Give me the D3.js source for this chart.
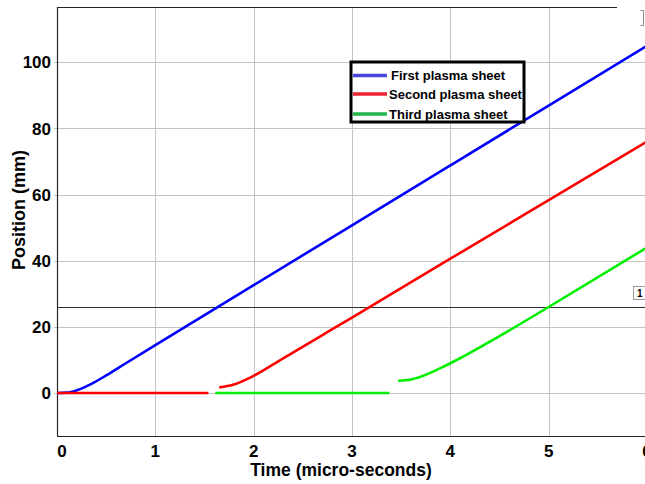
<!DOCTYPE html>
<html>
<head>
<meta charset="utf-8">
<script src="https://cdn.jsdelivr.net/npm/d3@7"></script>
<style>
  body { margin: 0; background: #fff; overflow: hidden; }
  text { font-family: "Liberation Sans", Arial, sans-serif; font-weight: bold; fill: #000; }
</style>
</head>
<body>
<svg id="chart" width="645" height="484"></svg>
<script>
// Sheet trajectories: time in micro-seconds, position in mm (null = break in the trace)
const firstTime  = [0, 0.1, 0.2, 0.34, 0.5, 0.7, 1, 2, 3, 4, 5, 6];
const firstPos   = [0, 0.1, 0.8, 2.6, 5.3, 9.0, 14.5, 32.6, 50.7, 68.8, 86.9, 105.0];
const secondTime = [0, 1.54, null, 1.65, 1.79, 2.0, 2.3, 2.67, 3, 4, 5, 6];
const secondPos  = [0, 0, null, 1.7, 2.5, 5.2, 10.5, 17.0, 22.8, 40.6, 58.3, 76.0];
const thirdTime  = [1.61, 3.38, null, 3.47, 3.6, 4.0, 4.5, 5, 6];
const thirdPos   = [0, 0, null, 3.7, 4.1, 9.0, 17.2, 26.0, 44.0];
const seriesNames = ["First plasma sheet", "Second plasma sheet", "Third plasma sheet"];
const xTicks = [0, 1, 2, 3, 4, 5, 6];
const yTicks = [0, 20, 40, 60, 80, 100];
const markerLevel = 26;   // horizontal marker line (mm)
const markerLabel = "1";

const lineColors   = ["#0000ff", "#ff0000", "#00ee00"];
const legendColors = ["#4646dc", "#ee2233", "#22b64c"];

const svg = d3.select("#chart");
const plotL = 57, plotR = 647, plotT = 7, plotB = 436;
const x = d3.scaleLinear().domain([0, 6]).range([plotL, plotR]);
const y = d3.scaleLinear().domain([-13, 116.7]).range([plotB, plotT]);

// grid
const grid = svg.append("g").attr("stroke", "#c4c4c4").attr("stroke-width", 1);
grid.selectAll(".gx").data(xTicks.filter(d => d > 0 && d < 6)).join("line")
  .attr("x1", d => Math.round(x(d)) + 0.5).attr("x2", d => Math.round(x(d)) + 0.5)
  .attr("y1", plotT).attr("y2", plotB);
grid.selectAll(".gy").data(yTicks).join("line")
  .attr("x1", plotL - 3).attr("x2", 645)
  .attr("y1", d => Math.round(y(d)) + 0.5).attr("y2", d => Math.round(y(d)) + 0.5);

// axis frame
svg.append("line").attr("x1", plotL + 0.5).attr("x2", plotL + 0.5).attr("y1", plotT).attr("y2", plotB)
  .attr("stroke", "#262626").attr("stroke-width", 1.2);
svg.append("line").attr("x1", plotL).attr("x2", 645).attr("y1", plotB + 0.5).attr("y2", plotB + 0.5)
  .attr("stroke", "#262626").attr("stroke-width", 1.2);
svg.append("line").attr("x1", plotL).attr("x2", 617).attr("y1", plotT + 0.5).attr("y2", plotT + 0.5)
  .attr("stroke", "#262626").attr("stroke-width", 1.2);

// tick labels
svg.append("g").selectAll("text").data(yTicks).join("text")
  .attr("x", plotL - 6).attr("y", d => y(d)).attr("dy", "0.36em")
  .attr("text-anchor", "end").attr("font-size", 17).text(d => d);
svg.append("g").selectAll("text").data(xTicks).join("text")
  .attr("x", d => x(d) + (d === 0 ? 5 : 0)).attr("y", plotB + 21)
  .attr("text-anchor", "middle").attr("font-size", 17).text(d => d);

// axis titles
svg.append("text").attr("x", 341).attr("y", 476).attr("text-anchor", "middle")
  .attr("font-size", 17.5).text("Time (micro-seconds)");
svg.append("text").attr("transform", "translate(25,210) rotate(-90)").attr("text-anchor", "middle")
  .attr("font-size", 18).text("Position (mm)");

// marker line and its tag
svg.append("line").attr("x1", plotL).attr("x2", 645)
  .attr("y1", Math.round(y(markerLevel)) + 0.5).attr("y2", Math.round(y(markerLevel)) + 0.5)
  .attr("stroke", "#303030").attr("stroke-width", 1.2);
svg.append("rect").attr("x", 633.5).attr("y", 286.5).attr("width", 14).attr("height", 13)
  .attr("fill", "#fff").attr("stroke", "#9a9a9a");
svg.append("text").attr("x", 637).attr("y", 297).attr("font-size", 10)
  .attr("font-weight", "normal").text(markerLabel);
svg.append("path").attr("d", "M640.5,10.5 H643.5 V25.5 H640.5")
  .attr("fill", "none").attr("stroke", "#8a8a8a");

// trajectories
const line = d3.line()
  .defined(d => d[0] !== null && d[1] !== null)
  .x(d => x(d[0])).y(d => y(d[1]))
  .curve(d3.curveMonotoneX);
const series = [
  d3.zip(firstTime, firstPos),
  d3.zip(thirdTime, thirdPos),
  d3.zip(secondTime, secondPos)
];
const seriesColor = [lineColors[0], lineColors[2], lineColors[1]];
svg.append("defs").append("clipPath").attr("id", "plot")
  .append("rect").attr("x", plotL).attr("y", plotT).attr("width", plotR - plotL).attr("height", plotB - plotT);
svg.append("g").attr("clip-path", "url(#plot)").selectAll("path").data(series).join("path")
  .attr("d", line).attr("fill", "none")
  .attr("stroke", (d, i) => seriesColor[i]).attr("stroke-width", 2.6)
  .attr("stroke-linejoin", "round");

// legend
const lg = svg.append("g");
lg.append("rect").attr("x", 351).attr("y", 62).attr("width", 173).attr("height", 60)
  .attr("fill", "#fff").attr("stroke", "#000").attr("stroke-width", 3);
const rowsY = [75.5, 94, 114];
lg.selectAll(".ll").data(seriesNames).join("line")
  .attr("x1", 353).attr("x2", 387).attr("y1", (d, i) => rowsY[i]).attr("y2", (d, i) => rowsY[i])
  .attr("stroke", (d, i) => legendColors[i]).attr("stroke-width", 3.5);
lg.selectAll(".lt").data(seriesNames).join("text")
  .attr("x", (d, i) => i === 0 ? 391 : 389).attr("y", (d, i) => rowsY[i]).attr("dy", "0.36em")
  .attr("font-size", 13).text(d => d);
</script>
</body>
</html>
